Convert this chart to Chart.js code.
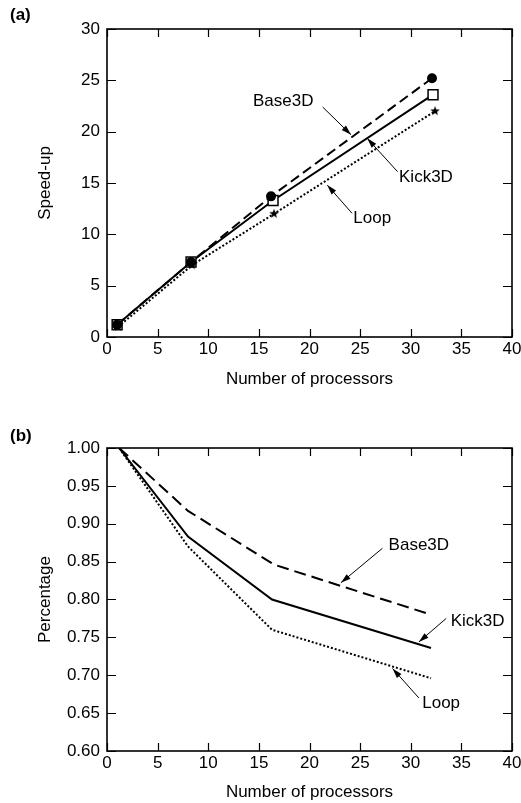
<!DOCTYPE html>
<html><head><meta charset="utf-8">
<script src="https://cdn.jsdelivr.net/npm/chart.js@4/dist/chart.umd.min.js"></script>
<style>
html,body{margin:0;padding:0;background:#fff;}
#wrap{position:relative;width:521px;height:803px;overflow:hidden;font-family:"Liberation Sans",Arial,sans-serif;}
.panel{position:absolute;left:0;width:521px;}
.tag{position:absolute;left:10px;font-weight:bold;font-size:17px;color:#000;line-height:20px;}
</style></head><body>
<div id="wrap">
<div class="panel" style="top:0;height:390px"><canvas id="c1" width="521" height="390"></canvas></div>
<div class="panel" style="top:400px;height:403px"><canvas id="c2" width="521" height="403"></canvas></div>
<div class="tag" style="top:5px">(a)</div>
<div class="tag" style="top:426px">(b)</div>
</div>
<script>
// ---- data ----
const processorTicks = [0, 5, 10, 15, 20, 25, 30, 35, 40];
const speedupTicks = [0, 5, 10, 15, 20, 25, 30];
const percentTicks = [0.60, 0.65, 0.70, 0.75, 0.80, 0.85, 0.90, 0.95, 1.00];
const seriesNames = ['Base3D', 'Kick3D', 'Loop'];

const speedBaseX = [1.0, 8.3, 16.2, 32.1];
const speedBaseY = [1.2, 7.3, 13.7, 25.2];
const speedKickX = [1.0, 8.3, 16.4, 32.2];
const speedKickY = [1.2, 7.3, 13.3, 23.6];
const speedLoopX = [1.1, 8.4, 16.5, 32.4];
const speedLoopY = [1.0, 7.0, 12.0, 22.0];

const effBaseX = [1.2, 8.0, 16.5, 32.0];
const effBaseY = [1.000, 0.917, 0.846, 0.780];
const effKickX = [1.2, 8.0, 16.3, 32.0];
const effKickY = [1.000, 0.883, 0.800, 0.736];
const effLoopX = [1.2, 8.0, 16.3, 32.0];
const effLoopY = [1.000, 0.870, 0.760, 0.696];

// annotation labels (data units)
const speedNotes = [
  {text: 'Base3D', at: [17.4, 23.0], from: [21.3, 22.4], to: [24.1, 19.7]},
  {text: 'Kick3D', at: [31.5, 15.6], from: [28.7, 16.1], to: [25.7, 19.35]},
  {text: 'Loop',   at: [26.2, 11.6], from: [24.2, 12.05], to: [21.75, 14.8]}
];
const effNotes = [
  {text: 'Base3D', at: [30.8, 0.872], from: [27.2, 0.8676], to: [23.1, 0.822]},
  {text: 'Kick3D', at: [36.6, 0.771], from: [33.5, 0.775], to: [30.8, 0.744]},
  {text: 'Loop',   at: [33.0, 0.663], from: [30.8, 0.670], to: [28.2, 0.709]}
];

// ---- helpers ----
const FAMILY = '"Liberation Sans", Arial, Helvetica, sans-serif';
Chart.defaults.font.family = FAMILY;
Chart.defaults.color = '#000';

function zip(xs, ys) { return xs.map((v, i) => ({x: v, y: ys[i]})); }

function makeStar(size) {
  const c = document.createElement('canvas');
  c.width = size; c.height = size;
  const g = c.getContext('2d');
  const cx = size / 2, cy = size / 2, R = size / 2, r = R * 0.42;
  g.beginPath();
  for (let i = 0; i < 10; i++) {
    const a = -Math.PI / 2 + i * Math.PI / 5;
    const rr = i % 2 === 0 ? R : r;
    g.lineTo(cx + rr * Math.cos(a), cy + rr * Math.sin(a));
  }
  g.closePath();
  g.fillStyle = '#000';
  g.fill();
  return c;
}
const starImg = makeStar(10);

const framePlugin = {
  id: 'frame',
  afterDatasetsDraw(chart, args, opts) {
    const {ctx, chartArea: {left, right, top, bottom}, scales: {x, y}} = chart;
    ctx.save();
    ctx.strokeStyle = '#000';
    ctx.lineWidth = 1.6;
    ctx.strokeRect(left, top, right - left, bottom - top);
    ctx.lineWidth = 1.2;
    ctx.beginPath();
    x.ticks.forEach(t => {
      const px = Math.round(x.getPixelForValue(t.value)) + 0.5;
      ctx.moveTo(px, bottom); ctx.lineTo(px, bottom - 8);
      ctx.moveTo(px, top); ctx.lineTo(px, top + 8);
    });
    y.ticks.forEach(t => {
      const py = Math.round(y.getPixelForValue(t.value)) + 0.5;
      ctx.moveTo(left, py); ctx.lineTo(left + 9, py);
      ctx.moveTo(right, py); ctx.lineTo(right - 9, py);
    });
    ctx.stroke();

    ctx.font = '17px ' + FAMILY;
    ctx.textAlign = 'center';
    ctx.textBaseline = 'middle';
    ctx.fillStyle = '#000';
    (opts.notes || []).forEach(n => {
      ctx.fillText(n.text, x.getPixelForValue(n.at[0]), y.getPixelForValue(n.at[1]));
      const x0 = x.getPixelForValue(n.from[0]), y0 = y.getPixelForValue(n.from[1]);
      const x1 = x.getPixelForValue(n.to[0]), y1 = y.getPixelForValue(n.to[1]);
      ctx.lineWidth = 1;
      ctx.beginPath(); ctx.moveTo(x0, y0); ctx.lineTo(x1, y1); ctx.stroke();
      const ang = Math.atan2(y1 - y0, x1 - x0);
      const L = 10, W = 3;
      ctx.beginPath();
      ctx.moveTo(x1, y1);
      ctx.lineTo(x1 - L * Math.cos(ang) + W * Math.sin(ang), y1 - L * Math.sin(ang) - W * Math.cos(ang));
      ctx.lineTo(x1 - L * Math.cos(ang) - W * Math.sin(ang), y1 - L * Math.sin(ang) + W * Math.cos(ang));
      ctx.closePath();
      ctx.fill();
    });
    ctx.restore();
  }
};

function buildOptions(cfg) {
  return {
    responsive: false,
    animation: false,
    events: [],
    layout: {padding: {top: cfg.padTop, right: 9, left: 0, bottom: 0}},
    plugins: {
      legend: {display: false},
      tooltip: {enabled: false},
      frame: {notes: cfg.notes}
    },
    scales: {
      x: {
        type: 'linear', min: 0, max: 40,
        afterBuildTicks: s => { s.ticks = processorTicks.map(v => ({value: v})); },
        grid: {display: false, drawTicks: false},
        border: {display: false},
        ticks: {color: '#000', font: {size: 17}, padding: 2, maxRotation: 0, autoSkip: false},
        title: {display: true, text: 'Number of processors', color: '#000', font: {size: 17}, padding: {top: 0, bottom: 0}},
        afterFit: s => { s.height = cfg.xHeight; s.paddingLeft = 0; s.paddingRight = 0; }
      },
      y: {
        type: 'linear', min: cfg.yMin, max: cfg.yMax,
        afterBuildTicks: s => { s.ticks = cfg.yTicks.map(v => ({value: v})); },
        grid: {display: false, drawTicks: false},
        border: {display: false},
        ticks: {color: '#000', font: {size: 17}, padding: 7, autoSkip: false, callback: cfg.fmt},
        title: {display: true, text: cfg.yTitle, color: '#000', font: {size: 17}, padding: {top: 35, bottom: 0}},
        afterFit: s => { s.width = 107; s.paddingTop = 0; s.paddingBottom = 0; }
      }
    }
  };
}

// ---- chart (a) ----
new Chart(document.getElementById('c1'), {
  type: 'scatter',
  data: {
    datasets: [
      {label: seriesNames[0], data: zip(speedBaseX, speedBaseY), showLine: true, borderColor: '#000', borderWidth: 2,
       borderDash: [10, 5], pointStyle: 'circle', pointRadius: 5, backgroundColor: '#000', pointBorderWidth: 0},
      {label: seriesNames[2], data: zip(speedLoopX, speedLoopY), showLine: true, borderColor: '#000', borderWidth: 2,
       borderDash: [2, 2], pointStyle: starImg, pointRadius: 5, backgroundColor: '#000'},
      {label: seriesNames[1], data: zip(speedKickX, speedKickY), showLine: true, borderColor: '#000', borderWidth: 2,
       pointStyle: 'rect', pointRadius: 7, backgroundColor: '#fff', pointBorderColor: '#000', pointBorderWidth: 1.5}
    ]
  },
  options: buildOptions({padTop: 29, xHeight: 53, yMin: 0, yMax: 30, yTicks: speedupTicks,
    fmt: v => String(v), yTitle: 'Speed-up', notes: speedNotes}),
  plugins: [framePlugin]
});

// ---- chart (b) ----
new Chart(document.getElementById('c2'), {
  type: 'scatter',
  data: {
    datasets: [
      {label: seriesNames[0], data: zip(effBaseX, effBaseY), showLine: true, borderColor: '#000', borderWidth: 2,
       borderDash: [12, 6], pointRadius: 0},
      {label: seriesNames[1], data: zip(effKickX, effKickY), showLine: true, borderColor: '#000', borderWidth: 2,
       pointRadius: 0},
      {label: seriesNames[2], data: zip(effLoopX, effLoopY), showLine: true, borderColor: '#000', borderWidth: 2,
       borderDash: [2, 2], pointRadius: 0}
    ]
  },
  options: buildOptions({padTop: 48, xHeight: 52, yMin: 0.6, yMax: 1.0, yTicks: percentTicks,
    fmt: v => Number(v).toFixed(2), yTitle: 'Percentage', notes: effNotes}),
  plugins: [framePlugin]
});
</script>
</body></html>
